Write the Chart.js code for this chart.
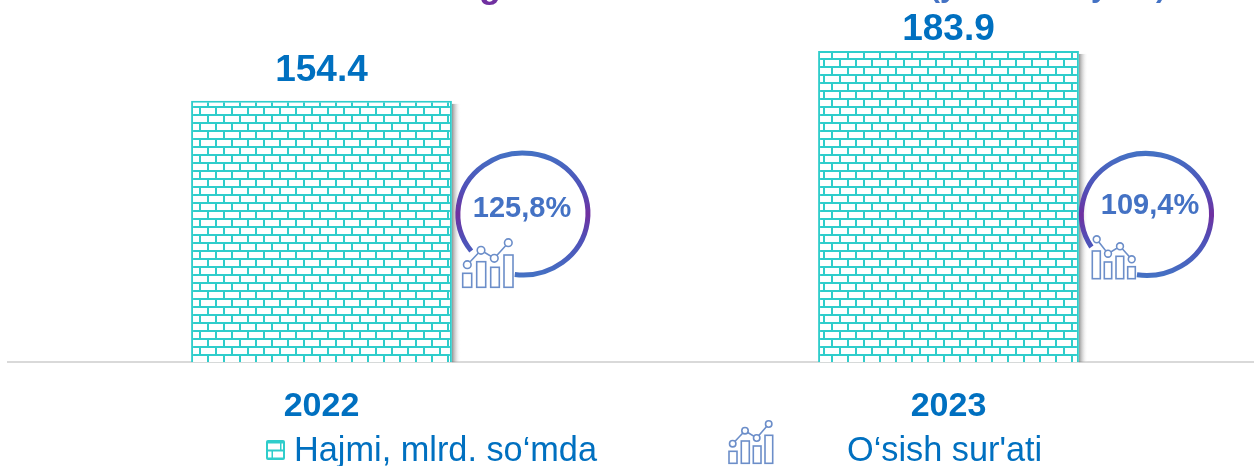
<!DOCTYPE html>
<html><head><meta charset="utf-8">
<style>html,body{margin:0;padding:0;background:#fff;overflow:hidden;width:1254px;height:466px}
#w{position:relative;width:1262px;height:466px}canvas{display:block;width:1262px;height:466px}</style>
<script src="https://cdn.jsdelivr.net/npm/chart.js@4/dist/chart.umd.min.js"></script>
</head><body><div id="w"><canvas id="c" width="1262" height="466"></canvas></div>
<script>
const categories = ['2022', '2023'];
const volume = [154.4, 183.9];
const growthLabels = ['125,8%', '109,4%'];
const seriesNames = ['Hajmi, mlrd. so‘mda', 'O‘sish sur\'ati'];

const FONT = '"Liberation Sans", Arial, sans-serif';
const TEAL = '#2FCDCB', BLUE = '#0070C0', RING = '#4472C4', PURPLE = '#7030A0';

function brick() {
  const t = document.createElement('canvas'); t.width = 16; t.height = 16;
  const g = t.getContext('2d');
  g.fillStyle = '#fff'; g.fillRect(0, 0, 16, 16);
  g.fillStyle = TEAL;
  g.fillRect(0, 2, 16, 2); g.fillRect(0, 10, 16, 2);
  g.fillRect(15, 3, 2, 8); g.fillRect(-1, 3, 2, 8);
  g.fillRect(7, 11, 2, 5); g.fillRect(7, 0, 2, 3);
  return g.createPattern(t, 'repeat');
}

function icon(ctx, bars, base, pts, r) {
  ctx.save();
  ctx.strokeStyle = '#6C8EC9'; ctx.lineWidth = 1.6;
  bars.forEach(b => { ctx.fillStyle = '#fff'; ctx.fillRect(b[0], b[2], b[1] - b[0], base - b[2]); ctx.strokeRect(b[0], b[2], b[1] - b[0], base - b[2]); });
  ctx.beginPath(); pts.forEach((p, i) => i ? ctx.lineTo(p[0], p[1]) : ctx.moveTo(p[0], p[1])); ctx.stroke();
  pts.forEach(p => { ctx.fillStyle = '#fff'; ctx.beginPath(); ctx.arc(p[0], p[1], r, 0, Math.PI * 2); ctx.fill(); ctx.stroke(); });
  ctx.restore();
}

function ring(ctx, cx, cy, start, end) {
  const g = ctx.createLinearGradient(0, cy - 63, 0, cy + 63);
  g.addColorStop(0, RING); g.addColorStop(0.3, '#5050B8'); g.addColorStop(0.5, PURPLE);
  g.addColorStop(0.7, '#5050B8'); g.addColorStop(1, RING);
  ctx.save(); ctx.strokeStyle = g; ctx.lineWidth = 5;
  ctx.beginPath(); ctx.ellipse(cx, cy, 65, 61, 0, start, end); ctx.stroke(); ctx.restore();
}

const overlay = {
  id: 'overlay',
  beforeDatasetsDraw(chart) {
    const ctx = chart.ctx;
    chart.getDatasetMeta(0).data.forEach(el => {
      const right = el.x + el.width / 2;
      const g = ctx.createLinearGradient(right, 0, right + 9, 0);
      g.addColorStop(0, 'rgba(110,110,110,.75)'); g.addColorStop(1, 'rgba(255,255,255,0)');
      ctx.fillStyle = g; ctx.fillRect(right, el.y + 3, 9, el.base - el.y - 3);
    });
  },
  afterDatasetsDraw(chart) {
    const ctx = chart.ctx;
    const meta = chart.getDatasetMeta(0).data;
    ctx.save();
    ctx.textAlign = 'center'; ctx.textBaseline = 'middle';
    ctx.font = 'bold 37px ' + FONT; ctx.fillStyle = BLUE;
    [30, 21.5].forEach((gap, i) => ctx.fillText(volume[i].toFixed(1), meta[i].x, meta[i].y - gap));

    const right0 = meta[0].x + meta[0].width / 2, right1 = meta[1].x + meta[1].width / 2;
    ring(ctx, right0 + 71, 214, 2.49, 7.98);
    ring(ctx, right1 + 67.5, 214.5, 2.58, 8.0);
    ctx.font = 'bold 29px ' + FONT; ctx.fillStyle = RING;
    ctx.fillText(growthLabels[0], 522, 209);
    ctx.fillText(growthLabels[1], 1150, 206);

    icon(ctx, [[462.7,471.7,273.3],[476.7,485.7,261.7],[490.7,499.3,267.3],[504,513,255]], 287.3,
      [[467.3,264.7],[481,250.3],[494.3,258.3],[508.3,242.7]], 3.8);
    icon(ctx, [[1092.3,1100.3,251],[1104.3,1111.7,262],[1116,1123.7,256.3],[1127.7,1135.3,266.7]], 278.7,
      [[1096.7,239.3],[1108,253.7],[1120,246.3],[1131.7,259.3]], 3.4);

    // legend
    ctx.fillStyle = TEAL; ctx.beginPath(); ctx.roundRect(266, 440, 19, 20, 2); ctx.fill();
    ctx.fillStyle = '#fff';
    ctx.fillRect(268, 443.5, 12, 6); ctx.fillRect(281.5, 443.5, 1.5, 6);
    ctx.fillRect(268, 451.5, 3.5, 6); ctx.fillRect(273, 451.5, 10, 6);
    ctx.textAlign = 'left'; ctx.font = '34.3px ' + FONT; ctx.fillStyle = BLUE;
    ctx.fillText(seriesNames[0], 294, 452);
    ctx.fillText(seriesNames[1], 847, 452);
    icon(ctx, [[729,737,451.3],[741.3,749.3,441],[753.3,761,446],[765,772.7,435.3]], 463.3,
      [[732.7,443.7],[745,430.7],[756.7,438],[768.7,424]], 3.2);

    // bottom edge of the title cropped by the picture
    ctx.textBaseline = 'alphabetic'; ctx.textAlign = 'left';
    ctx.font = 'bold 36px ' + FONT; ctx.fillStyle = PURPLE;
    ctx.fillText('g', 479, -3.5);
    ctx.font = 'bold 30px ' + FONT; ctx.fillStyle = RING;
    ctx.fillText('(y', 930, -3.5);
    ctx.fillText('y', 1091, -3.5);
    ctx.fillText(')', 1156, -3.5);
    ctx.restore();
  }
};

new Chart(document.getElementById('c'), {
  type: 'bar',
  plugins: [overlay],
  data: {
    labels: categories,
    datasets: [{
      label: seriesNames[0],
      data: volume,
      backgroundColor: brick(),
      borderColor: TEAL,
      borderWidth: 2,
      borderSkipped: 'bottom',
      barPercentage: 0.416,
      categoryPercentage: 1
    }]
  },
  options: {
    responsive: false, animation: false, devicePixelRatio: 1,
    layout: { padding: { left: 8, right: 0, top: 0, bottom: 15 } },
    plugins: { legend: { display: false }, tooltip: { enabled: false } },
    scales: {
      x: {
        grid: { display: false, drawTicks: false },
        border: { color: '#D9D9D9', width: 2 },
        ticks: { color: BLUE, font: { family: FONT, size: 34, weight: 'bold' }, padding: 24, maxRotation: 0 }
      },
      y: { display: false, min: 0, max: 214 }
    }
  }
});
</script>
</body></html>
